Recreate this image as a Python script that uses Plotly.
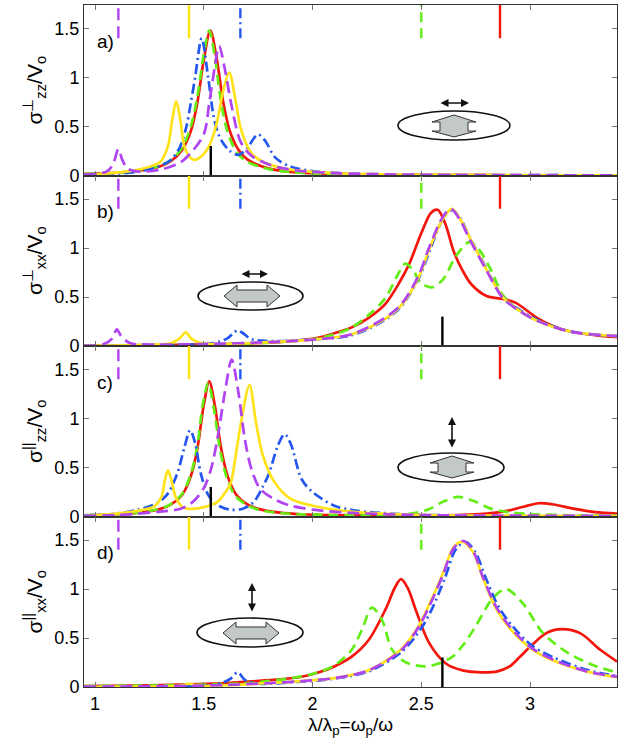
import plotly.graph_objects as go
from plotly.subplots import make_subplots

# ---- panel a) sigma_perp_zz ----
a_red_x = [0.95, 1.1, 1.2, 1.3, 1.35, 1.4, 1.44, 1.47, 1.5, 1.53, 1.56, 1.59, 1.62, 1.66, 1.7, 1.8, 1.9, 2.0, 2.2, 2.5, 3.0, 3.4]
a_red_y = [0.016, 0.028, 0.047, 0.094, 0.148, 0.26, 0.45, 0.74, 1.18, 1.48, 1.18, 0.74, 0.45, 0.26, 0.164, 0.07, 0.037, 0.024, 0.012, 0.005, 0.002, 0.001]
a_grn_x = [0.95, 1.1, 1.2, 1.3, 1.35, 1.4, 1.44, 1.47, 1.5, 1.525, 1.55, 1.58, 1.61, 1.65, 1.7, 1.8, 1.9, 2.0, 2.2, 2.5, 3.0, 3.4]
a_grn_y = [0.016, 0.028, 0.05, 0.1, 0.16, 0.28, 0.5, 0.8, 1.24, 1.48, 1.22, 0.74, 0.44, 0.24, 0.14, 0.065, 0.035, 0.022, 0.011, 0.005, 0.002, 0.001]
a_blu_x = [0.95, 1.1, 1.2, 1.3, 1.35, 1.39, 1.42, 1.44, 1.46, 1.49, 1.52, 1.55, 1.58, 1.62, 1.66, 1.7, 1.73, 1.75, 1.78, 1.83, 1.9, 2.0, 2.2, 2.5, 3.4]
a_blu_y = [0.01, 0.02, 0.04, 0.1, 0.16, 0.29, 0.5, 0.74, 1.0, 1.40, 1.0, 0.55, 0.36, 0.25, 0.21, 0.28, 0.38, 0.42, 0.36, 0.18, 0.09, 0.045, 0.018, 0.008, 0.002]
a_yel_x = [0.95, 1.1, 1.2, 1.25, 1.3, 1.335, 1.355, 1.373, 1.392, 1.41, 1.435, 1.455, 1.48, 1.517, 1.545, 1.563, 1.594, 1.617, 1.648, 1.671, 1.718, 1.78, 1.9, 2.1, 2.5, 3.4]
a_yel_y = [0.005, 0.03, 0.06, 0.09, 0.14, 0.30, 0.57, 0.76, 0.57, 0.30, 0.19, 0.16, 0.18, 0.27, 0.42, 0.57, 0.91, 1.05, 0.74, 0.47, 0.23, 0.13, 0.06, 0.025, 0.008, 0.002]
a_pur_x = [0.95, 1.02, 1.06, 1.085, 1.107, 1.125, 1.15, 1.2, 1.3, 1.39, 1.44, 1.5, 1.525, 1.55, 1.57, 1.6, 1.625, 1.67, 1.72, 1.78, 1.85, 1.95, 2.1, 2.4, 3.4]
a_pur_y = [0.01, 0.02, 0.05, 0.13, 0.27, 0.16, 0.07, 0.04, 0.06, 0.13, 0.23, 0.42, 0.74, 1.1, 1.32, 1.05, 0.74, 0.34, 0.2, 0.13, 0.08, 0.045, 0.025, 0.01, 0.002]

# ---- panel b) sigma_perp_xx ----
b_red_x = [0.95, 1.3, 1.6, 1.8, 1.95, 2.03, 2.1, 2.18, 2.26, 2.335, 2.4, 2.443, 2.5, 2.545, 2.575, 2.61, 2.65, 2.69, 2.73, 2.8, 2.875, 2.935, 3.03, 3.1, 3.18, 3.3, 3.4]
b_red_y = [0.005, 0.01, 0.02, 0.035, 0.06, 0.085, 0.13, 0.19, 0.29, 0.43, 0.65, 0.83, 1.15, 1.36, 1.39, 1.25, 0.96, 0.77, 0.63, 0.51, 0.48, 0.44, 0.29, 0.21, 0.15, 0.11, 0.09]
b_grn_x = [0.95, 1.5, 1.8, 2.0, 2.1, 2.18, 2.26, 2.335, 2.39, 2.427, 2.46, 2.5, 2.55, 2.6, 2.66, 2.72, 2.76, 2.82, 2.875, 2.95, 3.03, 3.18, 3.4]
b_grn_y = [0.005, 0.015, 0.035, 0.07, 0.12, 0.19, 0.32, 0.49, 0.72, 0.84, 0.78, 0.64, 0.6, 0.68, 0.92, 1.06, 1.0, 0.78, 0.52, 0.36, 0.26, 0.15, 0.1]
b_blu_x = [0.95, 1.3, 1.55, 1.61, 1.64, 1.656, 1.68, 1.72, 1.8, 2.026, 2.18, 2.335, 2.41, 2.49, 2.54, 2.6, 2.64, 2.68, 2.72, 2.8, 2.875, 2.95, 3.03, 3.18, 3.4]
b_blu_y = [0.003, 0.01, 0.03, 0.08, 0.14, 0.16, 0.13, 0.07, 0.05, 0.07, 0.11, 0.27, 0.41, 0.7, 0.98, 1.3, 1.39, 1.3, 1.12, 0.79, 0.5, 0.37, 0.27, 0.15, 0.1]
b_yel_x = [0.95, 1.2, 1.35, 1.39, 1.417, 1.445, 1.5, 1.8, 2.026, 2.18, 2.335, 2.41, 2.49, 2.535, 2.6, 2.64, 2.68, 2.72, 2.8, 2.875, 2.95, 3.03, 3.18, 3.4]
b_yel_y = [0.003, 0.008, 0.03, 0.08, 0.14, 0.07, 0.025, 0.04, 0.07, 0.12, 0.28, 0.42, 0.71, 0.98, 1.3, 1.40, 1.29, 1.12, 0.78, 0.5, 0.36, 0.26, 0.15, 0.1]
b_pur_x = [0.95, 1.04, 1.08, 1.1, 1.12, 1.16, 1.25, 1.5, 1.8, 2.026, 2.18, 2.335, 2.41, 2.49, 2.535, 2.6, 2.636, 2.68, 2.72, 2.8, 2.875, 2.95, 3.03, 3.18, 3.4]
b_pur_y = [0.005, 0.02, 0.08, 0.17, 0.1, 0.03, 0.015, 0.02, 0.04, 0.07, 0.12, 0.29, 0.43, 0.73, 1.0, 1.32, 1.40, 1.28, 1.10, 0.77, 0.49, 0.36, 0.26, 0.15, 0.1]

# ---- panel c) sigma_par_zz ----
c_red_x = [0.95, 1.1, 1.2, 1.3, 1.35, 1.4, 1.44, 1.47, 1.5, 1.525, 1.55, 1.58, 1.61, 1.65, 1.7, 1.75, 1.85, 1.95, 2.1, 2.4, 2.6, 2.8, 2.9, 2.97, 3.04, 3.1, 3.2, 3.3, 3.4]
c_red_y = [0.013, 0.023, 0.039, 0.078, 0.124, 0.22, 0.41, 0.69, 1.14, 1.38, 1.14, 0.69, 0.41, 0.22, 0.124, 0.078, 0.039, 0.023, 0.015, 0.01, 0.012, 0.03, 0.06, 0.1, 0.135, 0.125, 0.08, 0.045, 0.03]
c_grn_x = [0.95, 1.1, 1.2, 1.3, 1.35, 1.4, 1.44, 1.47, 1.495, 1.52, 1.545, 1.575, 1.605, 1.645, 1.7, 1.75, 1.85, 1.95, 2.1, 2.3, 2.45, 2.53, 2.6, 2.67, 2.75, 2.82, 2.9, 3.0, 3.2, 3.4]
c_grn_y = [0.013, 0.024, 0.04, 0.08, 0.13, 0.23, 0.43, 0.72, 1.14, 1.36, 1.12, 0.68, 0.4, 0.21, 0.115, 0.07, 0.036, 0.022, 0.014, 0.015, 0.03, 0.07, 0.15, 0.2, 0.15, 0.08, 0.045, 0.025, 0.012, 0.008]
c_blu_x = [0.95, 1.1, 1.2, 1.28, 1.33, 1.378, 1.41, 1.437, 1.46, 1.486, 1.52, 1.56, 1.62, 1.68, 1.73, 1.77, 1.8, 1.84, 1.872, 1.9, 1.95, 2.0, 2.1, 2.2, 2.4, 2.7, 3.4]
c_blu_y = [0.01, 0.03, 0.07, 0.13, 0.22, 0.44, 0.7, 0.88, 0.75, 0.44, 0.22, 0.12, 0.07, 0.08, 0.15, 0.3, 0.44, 0.72, 0.84, 0.74, 0.38, 0.25, 0.11, 0.06, 0.025, 0.01, 0.003]
c_yel_x = [0.95, 1.1, 1.2, 1.27, 1.305, 1.322, 1.335, 1.35, 1.37, 1.4, 1.425, 1.49, 1.563, 1.6, 1.625, 1.645, 1.671, 1.71, 1.74, 1.772, 1.825, 1.9, 2.0, 2.2, 2.5, 3.0, 3.4]
c_yel_y = [0.005, 0.03, 0.06, 0.1, 0.2, 0.38, 0.47, 0.38, 0.2, 0.1, 0.08, 0.09, 0.15, 0.25, 0.35, 0.6, 0.96, 1.34, 0.96, 0.62, 0.35, 0.18, 0.11, 0.045, 0.018, 0.007, 0.004]
c_pur_x = [0.95, 1.1, 1.2, 1.3, 1.394, 1.45, 1.5, 1.535, 1.563, 1.6, 1.628, 1.658, 1.688, 1.718, 1.76, 1.83, 1.9, 2.0, 2.2, 2.5, 3.0, 3.4]
c_pur_y = [0.005, 0.015, 0.03, 0.05, 0.08, 0.15, 0.29, 0.5, 0.80, 1.31, 1.60, 1.28, 0.80, 0.49, 0.28, 0.17, 0.11, 0.07, 0.035, 0.015, 0.008, 0.005]

# ---- panel d) sigma_par_xx ----
d_red_x = [0.95, 1.3, 1.6, 1.8, 1.95, 2.03, 2.1, 2.18, 2.258, 2.335, 2.38, 2.407, 2.44, 2.474, 2.536, 2.613, 2.69, 2.782, 2.85, 2.906, 2.95, 3.0, 3.075, 3.145, 3.23, 3.323, 3.4]
d_red_y = [0.01, 0.02, 0.04, 0.07, 0.105, 0.15, 0.21, 0.31, 0.48, 0.79, 1.02, 1.10, 1.0, 0.79, 0.45, 0.24, 0.17, 0.15, 0.16, 0.21, 0.3, 0.41, 0.55, 0.59, 0.55, 0.38, 0.26]
d_grn_x = [0.95, 1.4, 1.7, 1.9, 2.01, 2.1, 2.18, 2.23, 2.273, 2.32, 2.366, 2.43, 2.52, 2.58, 2.644, 2.7, 2.75, 2.83, 2.89, 2.968, 3.06, 3.18, 3.307, 3.4]
d_grn_y = [0.01, 0.02, 0.04, 0.09, 0.14, 0.22, 0.38, 0.6, 0.81, 0.68, 0.38, 0.25, 0.21, 0.24, 0.31, 0.45, 0.62, 0.91, 1.0, 0.85, 0.55, 0.34, 0.21, 0.15]
d_blu_x = [0.95, 1.3, 1.55, 1.62, 1.656, 1.69, 1.75, 1.95, 2.1, 2.258, 2.41, 2.5, 2.55, 2.61, 2.66, 2.705, 2.75, 2.795, 2.855, 2.92, 3.01, 3.12, 3.27, 3.4]
d_blu_y = [0.002, 0.006, 0.02, 0.08, 0.15, 0.07, 0.035, 0.055, 0.085, 0.16, 0.36, 0.6, 0.8, 1.12, 1.41, 1.48, 1.37, 1.12, 0.82, 0.62, 0.42, 0.29, 0.17, 0.11]
d_yel_x = [0.95, 1.3, 1.4, 1.43, 1.47, 1.6, 1.8, 1.95, 2.1, 2.258, 2.41, 2.49, 2.536, 2.6, 2.65, 2.69, 2.74, 2.782, 2.844, 2.906, 3.0, 3.106, 3.26, 3.4]
d_yel_y = [0.002, 0.006, 0.015, 0.035, 0.012, 0.018, 0.04, 0.06, 0.09, 0.17, 0.39, 0.63, 0.84, 1.16, 1.43, 1.48, 1.37, 1.12, 0.8, 0.6, 0.4, 0.27, 0.16, 0.1]
d_pur_x = [0.95, 1.3, 1.6, 1.8, 1.95, 2.1, 2.258, 2.41, 2.49, 2.536, 2.597, 2.65, 2.694, 2.74, 2.782, 2.844, 2.906, 3.0, 3.106, 3.26, 3.4]
d_pur_y = [0.003, 0.008, 0.02, 0.04, 0.06, 0.09, 0.17, 0.38, 0.62, 0.82, 1.13, 1.42, 1.49, 1.38, 1.13, 0.82, 0.62, 0.41, 0.28, 0.16, 0.105]

# resonance markers (top of every panel) and black marks at the bottom
mark_x = [1.107, 1.432, 1.668, 2.5, 2.862]
mark_names = ["pur", "yel", "blu", "grn", "red"]
black_x = [1.532, 2.597, 1.532, 2.597]

panel_labels = ["a)", "b)", "c)", "d)"]
ytitles = [
    "σ<sup>⊥</sup><sub>zz</sub>/V<sub>o</sub>",
    "σ<sup>⊥</sup><sub>xx</sub>/V<sub>o</sub>",
    "σ<sup>||</sup><sub>zz</sub>/V<sub>o</sub>",
    "σ<sup>||</sup><sub>xx</sub>/V<sub>o</sub>",
]

data = {
    "a": {"red": (a_red_x, a_red_y), "grn": (a_grn_x, a_grn_y), "blu": (a_blu_x, a_blu_y), "yel": (a_yel_x, a_yel_y), "pur": (a_pur_x, a_pur_y)},
    "b": {"red": (b_red_x, b_red_y), "grn": (b_grn_x, b_grn_y), "blu": (b_blu_x, b_blu_y), "yel": (b_yel_x, b_yel_y), "pur": (b_pur_x, b_pur_y)},
    "c": {"red": (c_red_x, c_red_y), "grn": (c_grn_x, c_grn_y), "blu": (c_blu_x, c_blu_y), "yel": (c_yel_x, c_yel_y), "pur": (c_pur_x, c_pur_y)},
    "d": {"red": (d_red_x, d_red_y), "grn": (d_grn_x, d_grn_y), "blu": (d_blu_x, d_blu_y), "yel": (d_yel_x, d_yel_y), "pur": (d_pur_x, d_pur_y)},
}

styles = {
    "red": dict(color="#f2160c", dash="solid"),
    "grn": dict(color="#62ee14", dash="10px,6px"),
    "blu": dict(color="#2457ee", dash="10px,4px,2px,4px"),
    "yel": dict(color="#ffe31a", dash="solid"),
    "pur": dict(color="#b044f2", dash="12px,6px"),
}

fig = make_subplots(rows=4, cols=1, shared_xaxes=True, vertical_spacing=0)

for row, key in enumerate(["a", "b", "c", "d"], start=1):
    for name in ["red", "grn", "blu", "yel", "pur"]:
        xs, ys = data[key][name]
        fig.add_trace(go.Scatter(x=xs, y=ys, mode="lines", showlegend=False,
                                 line=dict(width=2.7, shape="spline", smoothing=0.9, **styles[name])),
                      row=row, col=1)
    for mx, name in zip(mark_x, mark_names):
        fig.add_trace(go.Scatter(x=[mx, mx], y=[1.4, 1.75], mode="lines", showlegend=False,
                                 line=dict(width=2.4, **styles[name])), row=row, col=1)
    bx = black_x[row - 1]
    fig.add_trace(go.Scatter(x=[bx, bx], y=[0, 0.3], mode="lines", showlegend=False,
                             line=dict(width=2.4, color="black")), row=row, col=1)
    fig.add_annotation(x=1.0, y=1.37, text=panel_labels[row - 1], showarrow=False,
                       xanchor="left", yanchor="middle", font=dict(size=19),
                       xref="x" if row == 1 else "x%d" % row,
                       yref="y" if row == 1 else "y%d" % row)
    fig.update_yaxes(title_text=ytitles[row - 1], title_font=dict(size=21), title_standoff=6,
                     row=row, col=1)

axis_style = dict(showline=True, linecolor="#333", linewidth=1, mirror="ticks", automargin=False,
                  ticks="inside", ticklen=5, tickcolor="#777", showgrid=False, zeroline=False)
fig.update_xaxes(range=[0.949, 3.40], tickvals=[1, 1.5, 2, 2.5, 3],
                 ticktext=["1", "1.5", "2", "2.5", "3"], **axis_style)
fig.update_yaxes(range=[0, 1.74], tickvals=[0, 0.5, 1, 1.5],
                 ticktext=["0", "0.5", "1", "1.5"], **axis_style)
fig.update_xaxes(title_text="λ/λ<sub>p</sub>=ω<sub>p</sub>/ω", title_standoff=2,
                 title_font=dict(size=19), row=4, col=1)


# inset sketches (drawn in pixel units of the 622x745 page)
def P(px, py):
    return (px - 84) / 533, (687 - py) / 682


def path(points):
    pts = [P(*p) for p in points]
    return "M " + " L ".join("%.4f,%.4f" % p for p in pts) + " Z"


ellipses = [(398, 111, 510, 140), (198, 282, 303, 310), (398, 453, 504, 482), (197, 618, 303, 647)]
for x0, y0, x1, y1 in ellipses:
    px0, py0 = P(x0, y1)
    px1, py1 = P(x1, y0)
    fig.add_shape(type="circle", xref="paper", yref="paper", x0=px0, y0=py0, x1=px1, y1=py1,
                  line=dict(color="#111", width=1.6))

vert_shape = [(0, -11), (22, -4), (14, -4), (14, 5), (22, 5), (0, 11), (-22, 5), (-14, 5), (-14, -4), (-22, -4)]
horz_shape = [(-28, 0), (-15, -11), (-15, -6), (15, -6), (15, -11), (28, 0), (15, 11), (15, 6), (-15, 6), (-15, 11)]
for (cx, cy), shp in [((454, 126), vert_shape), ((252, 296), horz_shape),
                      ((452, 467), vert_shape), ((251, 633), horz_shape)]:
    fig.add_shape(type="path", xref="paper", yref="paper",
                  path=path([(cx + dx, cy + dy) for dx, dy in shp]),
                  fillcolor="#c3c8c8", line=dict(color="#333", width=1))

# small double arrows above each inset
for cx, cy, h, horiz in [(454, 103, 15, True), (254, 274, 14, True), (452, 433, 16, False), (252, 598, 15, False)]:
    if horiz:
        hx, hy = P(cx + h, cy)
        ax, ay = -2 * h, 0
    else:
        hx, hy = P(cx, cy - h)
        ax, ay = 0, 2 * h
    fig.add_annotation(x=hx, y=hy, xref="paper", yref="paper", text="", showarrow=True,
                       ax=ax, ay=ay, arrowhead=2, arrowside="end+start", arrowsize=1,
                       arrowwidth=1.6, arrowcolor="#111", standoff=0, startstandoff=0)

fig.update_layout(width=622, height=745, margin=dict(l=84, r=5, t=5, b=58, autoexpand=False),
                  plot_bgcolor="white", paper_bgcolor="white",
                  font=dict(family="Liberation Sans, Arial, sans-serif", size=18, color="black"))

# the page body has a default 8px margin; drop it so the figure sits at the window corner
fig.write_html("out.html", config={"displayModeBar": False},
               post_script="document.body.style.margin='0';")
